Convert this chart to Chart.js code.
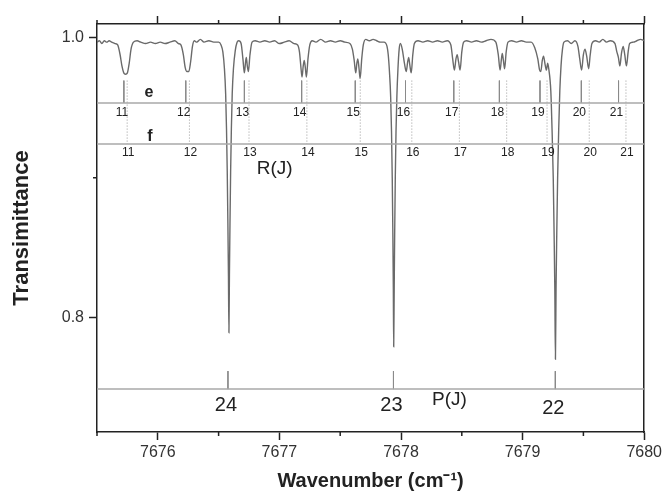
<!DOCTYPE html>
<html>
<head>
<meta charset="utf-8">
<script src="https://cdn.jsdelivr.net/npm/chart.js@4.4.1/dist/chart.umd.min.js"></script>
<style>
  html, body { margin: 0; padding: 0; background: #fff; }
  #wrap { width: 665px; height: 491px; }
</style>
</head>
<body>
<div id="wrap"><canvas id="chart" width="665" height="491"></canvas></div>
<script>
const FONT = '"Liberation Sans", Arial, sans-serif';
const AXIS = "#222";

// axis ticks
const xMajorTicks = [7676, 7677, 7678, 7679, 7680];
const xMinorTicks = [7675.5, 7676.5, 7677.5, 7678.5, 7679.5];
const yMajorTicks = [0.8, 1.0];
const yMinorTicks = [0.9];

// measured spectrum: [wavenumber, transmittance]
const spectrum = [
  [7675.50, 0.997], [7675.52, 0.998], [7675.54, 0.996], [7675.56, 0.998], [7675.58, 0.997], [7675.60, 0.998], [7675.62, 0.997], [7675.65, 0.996],
  [7675.67, 0.995], [7675.69, 0.988], [7675.705, 0.980], [7675.72, 0.975], [7675.735, 0.974], [7675.75, 0.975], [7675.765, 0.982], [7675.78, 0.992], [7675.80, 0.997],
  [7675.83, 0.998], [7675.86, 0.997], [7675.90, 0.996], [7675.94, 0.997], [7675.98, 0.996], [7676.02, 0.997], [7676.06, 0.996], [7676.10, 0.997], [7676.14, 0.998], [7676.17, 0.996],
  [7676.19, 0.995], [7676.21, 0.988], [7676.225, 0.979], [7676.24, 0.976], [7676.255, 0.976], [7676.27, 0.983], [7676.285, 0.994], [7676.30, 0.998], [7676.32, 0.997], [7676.35, 0.999], [7676.38, 0.997], [7676.42, 0.998], [7676.46, 0.997], [7676.50, 0.997],
  [7676.52, 0.995], [7676.535, 0.990], [7676.548, 0.978], [7676.558, 0.960], [7676.565, 0.935], [7676.571, 0.905], [7676.576, 0.870], [7676.581, 0.830], [7676.585, 0.789],
  [7676.589, 0.830], [7676.594, 0.870], [7676.599, 0.905], [7676.605, 0.935], [7676.612, 0.960], [7676.622, 0.978], [7676.637, 0.991], [7676.652, 0.997], [7676.665, 0.998],
  [7676.685, 0.996], [7676.70, 0.985], [7676.712, 0.975], [7676.722, 0.983], [7676.728, 0.986], [7676.736, 0.980], [7676.745, 0.976], [7676.758, 0.988], [7676.775, 0.997],
  [7676.80, 0.998], [7676.84, 0.997], [7676.88, 0.998], [7676.92, 0.997], [7676.96, 0.998], [7677.00, 0.996], [7677.04, 0.997], [7677.08, 0.998], [7677.12, 0.996], [7677.15, 0.995],
  [7677.165, 0.990], [7677.178, 0.978], [7677.186, 0.972], [7677.196, 0.980], [7677.204, 0.984], [7677.213, 0.979], [7677.222, 0.972], [7677.235, 0.985], [7677.25, 0.995],
  [7677.27, 0.998], [7677.30, 0.997], [7677.34, 0.999], [7677.38, 0.997], [7677.42, 0.998], [7677.46, 0.997], [7677.50, 0.998], [7677.54, 0.997], [7677.58, 0.996], [7677.60, 0.992],
  [7677.615, 0.984], [7677.628, 0.975], [7677.637, 0.982], [7677.645, 0.985], [7677.655, 0.978], [7677.664, 0.971], [7677.677, 0.985], [7677.69, 0.995], [7677.71, 0.999],
  [7677.74, 0.998], [7677.77, 0.999], [7677.80, 0.998], [7677.83, 0.997], [7677.86, 0.997], [7677.885, 0.994],
  [7677.895, 0.988], [7677.905, 0.976], [7677.915, 0.958], [7677.922, 0.933], [7677.928, 0.900], [7677.933, 0.860], [7677.937, 0.820], [7677.94, 0.779],
  [7677.944, 0.820], [7677.948, 0.860], [7677.953, 0.900], [7677.959, 0.933], [7677.966, 0.958], [7677.975, 0.978], [7677.985, 0.992], [7677.995, 0.996],
  [7678.01, 0.992], [7678.028, 0.982], [7678.043, 0.976], [7678.055, 0.983], [7678.063, 0.986], [7678.072, 0.981], [7678.084, 0.975], [7678.097, 0.988], [7678.11, 0.996],
  [7678.14, 0.998], [7678.18, 0.997], [7678.22, 0.998], [7678.26, 0.997], [7678.30, 0.998], [7678.34, 0.997], [7678.38, 0.998], [7678.41, 0.995],
  [7678.425, 0.985], [7678.439, 0.977], [7678.452, 0.985], [7678.462, 0.988], [7678.473, 0.983], [7678.486, 0.977], [7678.50, 0.990], [7678.515, 0.997],
  [7678.54, 0.998], [7678.58, 0.997], [7678.62, 0.998], [7678.66, 0.997], [7678.70, 0.998], [7678.74, 0.999], [7678.78, 0.997],
  [7678.80, 0.988], [7678.815, 0.977], [7678.826, 0.985], [7678.833, 0.989], [7678.842, 0.984], [7678.852, 0.978], [7678.865, 0.990], [7678.88, 0.997],
  [7678.91, 0.998], [7678.95, 0.997], [7678.99, 0.998], [7679.03, 0.997], [7679.07, 0.997], [7679.10, 0.993],
  [7679.125, 0.985], [7679.14, 0.977], [7679.15, 0.976], [7679.162, 0.984], [7679.172, 0.987], [7679.185, 0.981], [7679.196, 0.977], [7679.206, 0.982], [7679.215, 0.978],
  [7679.232, 0.962], [7679.242, 0.935], [7679.252, 0.900], [7679.259, 0.860], [7679.265, 0.820], [7679.27, 0.770],
  [7679.275, 0.820], [7679.281, 0.860], [7679.288, 0.900], [7679.297, 0.935], [7679.306, 0.962], [7679.316, 0.980], [7679.328, 0.992], [7679.34, 0.997],
  [7679.37, 0.998], [7679.40, 0.996], [7679.43, 0.998], [7679.455, 0.994],
  [7679.47, 0.985], [7679.485, 0.977], [7679.50, 0.988], [7679.513, 0.992], [7679.527, 0.987], [7679.543, 0.978], [7679.556, 0.988], [7679.57, 0.996],
  [7679.60, 0.998], [7679.63, 0.997], [7679.66, 0.999], [7679.69, 0.997], [7679.72, 0.998], [7679.76, 0.996], [7679.775, 0.990],
  [7679.788, 0.986], [7679.80, 0.980], [7679.813, 0.989], [7679.827, 0.994], [7679.84, 0.988], [7679.854, 0.980], [7679.868, 0.990], [7679.88, 0.996],
  [7679.91, 0.997], [7679.94, 0.998], [7679.97, 0.999], [7680.00, 0.998]
];

// line assignments
const rBranchJ = [11, 12, 13, 14, 15, 16, 17, 18, 19, 20, 21];
const eBranchPos = [7675.721, 7676.230, 7676.712, 7677.183, 7677.624, 7678.037, 7678.434, 7678.809, 7679.143, 7679.483, 7679.789];
const fBranchPos = [7675.748, 7676.260, 7676.750, 7677.226, 7677.665, 7678.089, 7678.480, 7678.869, 7679.201, 7679.548, 7679.850];
const pBranchJ = [24, 23, 22];
const pBranchPos = [7676.577, 7677.938, 7679.269];

// reference levels of the assignment ladders
const levelE = 0.9535;
const levelF = 0.9241;
const levelP = 0.7487;
const stickTopR = 0.9695;
const stickTopP = 0.7616;

const X_MIN = 7675.5, X_MAX = 7680;
const Y_MIN = 0.718, Y_MAX = 1.01;

function sticks(xs, top, bottom) {
  const pts = [];
  xs.forEach((x) => { pts.push({ x, y: top }, { x, y: bottom }, { x, y: null }); });
  return pts;
}
function level(y) {
  return [{ x: X_MIN, y }, { x: X_MAX, y }];
}

// text placed in data coordinates
const textLabels = [
  { text: "e", x: 7675.927, y: 0.9608, font: "bold 16px " + FONT },
  { text: "f", x: 7675.935, y: 0.9293, font: "bold 16px " + FONT },
  { text: "R(J)", x: 7676.961, y: 0.9065, font: "19px " + FONT },
  { text: "P(J)", x: 7678.398, y: 0.7409, font: "19px " + FONT },
];
rBranchJ.forEach((j, i) => {
  textLabels.push({ text: String(j), x: eBranchPos[i], y: 0.9463, font: "12px " + FONT, dx: -2 });
  textLabels.push({ text: String(j), x: fBranchPos[i], y: 0.9177, font: "12px " + FONT, dx: 1 });
});
const pLabelY = [0.7373, 0.7373, 0.7351];
pBranchJ.forEach((j, i) => {
  textLabels.push({ text: String(j), x: pBranchPos[i], y: pLabelY[i], font: "20px " + FONT, dx: -2 });
});

const textPlugin = {
  id: "textLabels",
  afterDatasetsDraw(chart) {
    const { ctx, scales } = chart;
    ctx.save();
    ctx.fillStyle = "#222";
    ctx.textAlign = "center";
    ctx.textBaseline = "middle";
    textLabels.forEach((t) => {
      ctx.font = t.font;
      ctx.fillText(t.text, scales.x.getPixelForValue(t.x) + (t.dx || 0), scales.y.getPixelForValue(t.y));
    });
    ctx.restore();
  },
};

const minorTickPlugin = {
  id: "minorTicks",
  afterDraw(chart) {
    const { ctx, chartArea: a, scales } = chart;
    ctx.save();
    ctx.strokeStyle = AXIS;
    ctx.lineWidth = 1.5;
    ctx.beginPath();
    xMinorTicks.forEach((v) => {
      const px = scales.x.getPixelForValue(v);
      ctx.moveTo(px, a.bottom); ctx.lineTo(px, a.bottom + 4);
      ctx.moveTo(px, a.top); ctx.lineTo(px, a.top - 4);
    });
    yMinorTicks.forEach((v) => {
      const py = scales.y.getPixelForValue(v);
      ctx.moveTo(a.left - 4, py); ctx.lineTo(a.left, py);
    });
    ctx.stroke();
    ctx.restore();
  },
};

const gridStyle = {
  display: true, drawOnChartArea: false, drawTicks: true,
  tickLength: 8, tickColor: AXIS, tickWidth: 1.5,
};
const borderStyle = { display: true, color: AXIS, width: 1.5 };

const ctx = document.getElementById("chart").getContext("2d");
new Chart(ctx, {
  type: "line",
  data: {
    datasets: [
      {
        label: "levelE",
        data: level(levelE), borderColor: "#a8a8a8", borderWidth: 1.5,
        pointRadius: 0, xAxisID: "x", yAxisID: "y",
      },
      {
        label: "levelF",
        data: level(levelF), borderColor: "#a8a8a8", borderWidth: 1.5,
        pointRadius: 0, xAxisID: "x", yAxisID: "y",
      },
      {
        label: "levelP",
        data: level(levelP), borderColor: "#a8a8a8", borderWidth: 1.5,
        pointRadius: 0, xAxisID: "x", yAxisID: "y",
      },
      {
        label: "e sticks",
        data: sticks(eBranchPos, stickTopR, levelE), borderColor: "#8a8a8a", borderWidth: 1,
        pointRadius: 0, spanGaps: false, xAxisID: "x", yAxisID: "y",
      },
      {
        label: "f sticks",
        data: sticks(fBranchPos, stickTopR, levelF), borderColor: "#9a9a9a", borderWidth: 1,
        borderDash: [1, 2], pointRadius: 0, spanGaps: false, xAxisID: "x", yAxisID: "y",
      },
      {
        label: "P sticks",
        data: sticks(pBranchPos, stickTopP, levelP), borderColor: "#8a8a8a", borderWidth: 1,
        pointRadius: 0, spanGaps: false, xAxisID: "x", yAxisID: "y",
      },
      {
        label: "Transmittance",
        data: spectrum.map(([x, y]) => ({ x, y })),
        borderColor: "#6a6a6a", borderWidth: 1.4,
        pointRadius: 0, cubicInterpolationMode: "monotone",
        xAxisID: "x", yAxisID: "y",
      },
    ],
  },
  options: {
    responsive: false,
    animation: false,
    events: [],
    layout: { padding: 0 },
    plugins: { legend: { display: false }, tooltip: { enabled: false } },
    scales: {
      x: {
        type: "linear", position: "bottom", min: X_MIN, max: X_MAX,
        afterBuildTicks: (s) => { s.ticks = xMajorTicks.map((v) => ({ value: v })); },
        afterFit: (s) => { s.height = 59; },
        grid: gridStyle, border: borderStyle,
        ticks: {
          color: "#333", font: { family: FONT, size: 16 }, padding: 3,
          maxRotation: 0, autoSkip: false, callback: (v) => String(v),
        },
        title: {
          display: true, text: "Wavenumber (cm⁻¹)", color: "#222",
          font: { family: FONT, size: 20, weight: "bold", lineHeight: 1 },
          padding: { top: 0, bottom: 0 },
        },
      },
      xTop: {
        type: "linear", position: "top", min: X_MIN, max: X_MAX,
        afterBuildTicks: (s) => { s.ticks = xMajorTicks.map((v) => ({ value: v })); },
        afterFit: (s) => { s.height = 24; },
        grid: gridStyle, border: borderStyle,
        ticks: { display: false },
      },
      y: {
        type: "linear", position: "left", min: Y_MIN, max: Y_MAX,
        afterBuildTicks: (s) => { s.ticks = yMajorTicks.map((v) => ({ value: v })); },
        afterFit: (s) => { s.width = 97; },
        grid: gridStyle, border: borderStyle,
        ticks: {
          color: "#333", font: { family: FONT, size: 16 }, padding: 5,
          callback: (v) => v.toFixed(1),
        },
        title: {
          display: true, text: "Transimittance", color: "#222",
          font: { family: FONT, size: 22, weight: "bold", lineHeight: 1 },
          padding: { top: 11, bottom: 0 },
        },
      },
      yRight: {
        type: "linear", position: "right", min: Y_MIN, max: Y_MAX,
        afterFit: (s) => { s.width = 20; },
        grid: { display: false, drawTicks: false },
        border: borderStyle,
        ticks: { display: false },
      },
    },
  },
  plugins: [textPlugin, minorTickPlugin],
});
</script>
</body>
</html>
